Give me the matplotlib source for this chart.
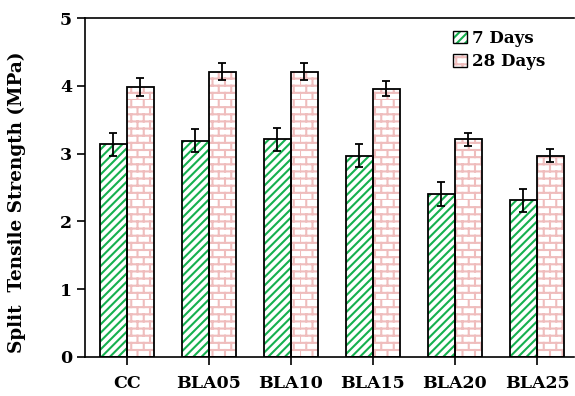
import warnings
import numpy as np
import matplotlib
matplotlib.use("Agg")
import matplotlib.pyplot as plt
import matplotlib.hatch as mhatch
from matplotlib.patches import Patch
from matplotlib.path import Path

warnings.filterwarnings("ignore")

groups = ["CC", "BLA05", "BLA10", "BLA15", "BLA20", "BLA25"]
days7 = [3.14, 3.19, 3.21, 2.97, 2.40, 2.31]
days7_err = [0.17, 0.17, 0.17, 0.17, 0.175, 0.17]
days28 = [3.98, 4.21, 4.21, 3.96, 3.21, 2.97]
days28_err = [0.13, 0.13, 0.13, 0.115, 0.10, 0.095]
series_labels = ["7 Days", "28 Days"]


class BrickHatch(mhatch.HatchPatternBase):
    """Brick pattern: 14 rows of staggered bricks per hatch cell for each 'b'."""

    def __init__(self, hatch, density):
        self.rows = hatch.count("b") * 14
        self.cols = hatch.count("b") * 8
        self.num_vertices = self.rows * (1 + self.cols) * 2

    def set_vertices_and_codes(self, vertices, codes):
        h = 1.0 / self.rows
        w = 1.0 / self.cols
        segs = []
        for r in range(self.rows):
            y0 = r * h
            segs.append(((0.0, y0), (1.0, y0)))
            shift = 0.0 if r % 2 == 0 else w / 2
            for c in range(self.cols):
                xj = c * w + shift
                segs.append(((xj, y0), (xj, y0 + h)))
        for i, (a, b) in enumerate(segs):
            vertices[2 * i] = a
            vertices[2 * i + 1] = b
            codes[2 * i] = Path.MOVETO
            codes[2 * i + 1] = Path.LINETO


mhatch._hatch_types.append(BrickHatch)

plt.rcParams["font.family"] = "DejaVu Serif"
plt.rcParams["font.weight"] = "bold"
plt.rcParams["hatch.linewidth"] = 1.5

green = "#16b04f"
pink = "#efbdbd"

fig = plt.figure(figsize=(5.75, 3.96), dpi=100)
ax = fig.add_axes([0.148, 0.0985, 0.85, 0.856])

x = np.arange(len(groups))
w = 0.33

# hatched fills first (hatch takes the edge colour), black outlines on top
ax.bar(x - w / 2, days7, w, color="white", edgecolor=green, hatch="////", linewidth=0, zorder=2)
ax.bar(x + w / 2, days28, w, color="white", edgecolor=pink, hatch="b", linewidth=0, zorder=2)
ax.bar(x - w / 2, days7, w, fill=False, edgecolor="black", linewidth=1.3, zorder=3)
ax.bar(x + w / 2, days28, w, fill=False, edgecolor="black", linewidth=1.3, zorder=3)

ax.errorbar(x - w / 2, days7, yerr=days7_err, fmt="none", ecolor="black",
            elinewidth=1.3, capsize=3, capthick=1.3, zorder=4)
ax.errorbar(x + w / 2, days28, yerr=days28_err, fmt="none", ecolor="black",
            elinewidth=1.3, capsize=3, capthick=1.3, zorder=4)

ax.set_xlim(-0.51, 5.45)
ax.set_ylim(0, 5)
ax.set_yticks(range(0, 6))
ax.set_xticks(x)
ax.set_xticklabels(groups)
ax.tick_params(axis="both", direction="out", length=6, width=1.2, labelsize=12.5)
ax.tick_params(axis="x", pad=7)
ax.spines["right"].set_visible(False)
for s in ["left", "bottom", "top"]:
    ax.spines[s].set_linewidth(1.2)

ax.set_ylabel("Split  Tensile Strength (MPa)", fontsize=13.2, fontweight="bold")
ax.yaxis.set_label_coords(-0.12, 0.457)

h7 = (Patch(facecolor="white", edgecolor=green, hatch="////", linewidth=0),
      Patch(fill=False, edgecolor="black", linewidth=1))
h28 = (Patch(facecolor="white", edgecolor=pink, hatch="b", linewidth=0),
       Patch(fill=False, edgecolor="black", linewidth=1))
ax.legend([h7, h28], series_labels, loc="upper right", bbox_to_anchor=(0.965, 1.0),
          frameon=False, prop={"size": 12, "weight": "bold"}, handlelength=0.8,
          handleheight=0.8, handletextpad=0.3, borderaxespad=0.3, labelspacing=0.4)

fig.savefig("out.png", dpi=100)
